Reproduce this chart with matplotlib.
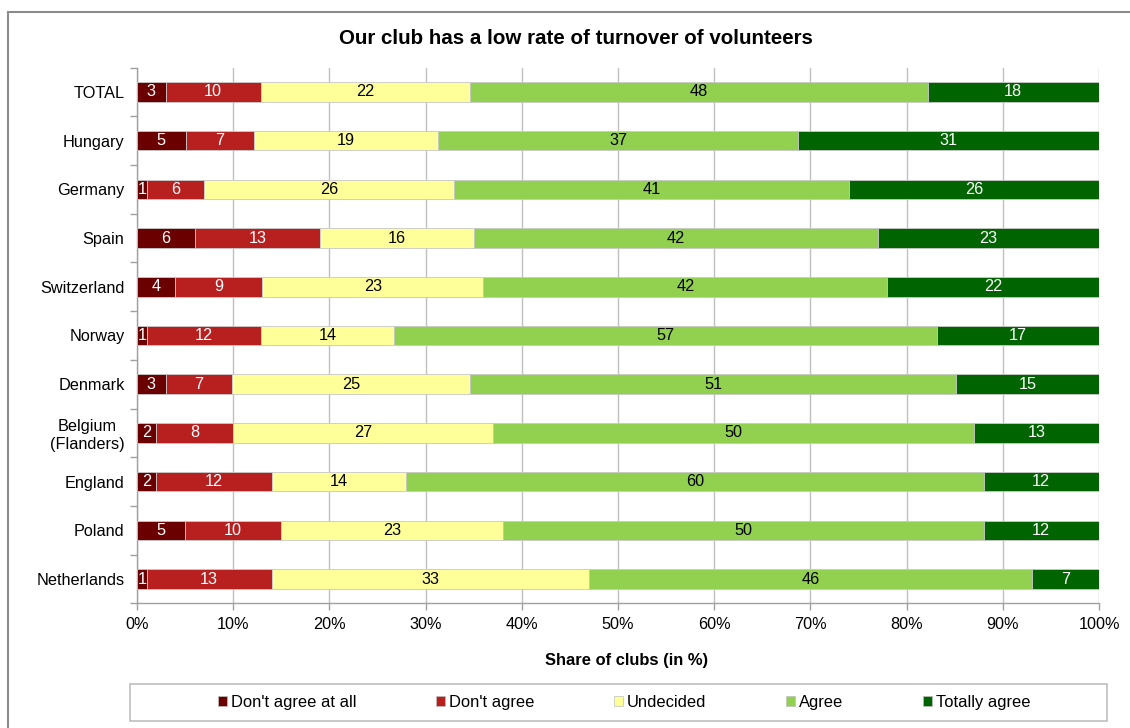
import matplotlib
matplotlib.use("Agg")
import matplotlib.pyplot as plt
import numpy as np
from matplotlib.patches import Patch, Rectangle
from matplotlib.lines import Line2D
from matplotlib.ticker import FixedLocator, PercentFormatter

plt.rcParams['font.family'] = ['Liberation Sans', 'DejaVu Sans']

categories = ["TOTAL", "Hungary", "Germany", "Spain", "Switzerland", "Norway",
              "Denmark", "Belgium\n(Flanders)", "England", "Poland", "Netherlands"]
series_names = ["Don't agree at all", "Don't agree", "Undecided", "Agree", "Totally agree"]
dont_agree_at_all = [3, 5, 1, 6, 4, 1, 3, 2, 2, 5, 1]
dont_agree = [10, 7, 6, 13, 9, 12, 7, 8, 12, 10, 13]
undecided = [22, 19, 26, 16, 23, 14, 25, 27, 14, 23, 33]
agree = [48, 37, 41, 42, 42, 57, 51, 50, 60, 50, 46]
totally_agree = [18, 31, 26, 23, 22, 17, 15, 13, 12, 12, 7]
x_ticks = [0, 10, 20, 30, 40, 50, 60, 70, 80, 90, 100]

colors = ["#6B0000", "#B82020", "#FFFF99", "#92D050", "#006400"]
label_colors = ["white", "white", "black", "black", "white"]

data = np.array([dont_agree_at_all, dont_agree, undecided, agree, totally_agree], dtype=float)
totals = data.sum(axis=0)
shares = data / totals * 100

W, H = 1130, 728
fig = plt.figure(figsize=(W / 100, H / 100), dpi=100)
ax = fig.add_axes([137 / W, 1 - 603.4 / H, (1099 - 137) / W, (603.4 - 67.6) / H])

y = np.arange(len(categories))
left = np.zeros(len(categories))
for i, name in enumerate(series_names):
    bars = ax.barh(y, shares[i], left=left, height=0.4, color=colors[i],
                   edgecolor="#C8C8C8", linewidth=0.6, label=name, zorder=3)
    for j, b in enumerate(bars):
        cx = left[j] + shares[i][j] / 2
        ax.text(cx, y[j], f"{int(data[i][j])}", ha="center", va="center",
                color=label_colors[i], fontsize=11.7, zorder=4)
    left += shares[i]

ax.set_xlim(0, 100)
ax.set_ylim(len(categories) - 0.5, -0.5)
ax.set_yticks(y)
ax.set_yticklabels(categories, fontsize=11.7)
for lab in ax.get_yticklabels():
    lab.set_multialignment('center')
ax.yaxis.set_minor_locator(FixedLocator(np.arange(-0.5, len(categories), 1.0)))
ax.tick_params(axis='y', which='major', length=0, pad=9)
ax.tick_params(axis='y', which='minor', length=5, color="#A0A0A0", width=1)
ax.set_xticks(x_ticks)
ax.xaxis.set_major_formatter(PercentFormatter(decimals=0))
ax.tick_params(axis='x', which='major', length=5, color="#A0A0A0", width=1,
               labelsize=11.7, pad=5)
ax.grid(axis='x', color="#C0C0C0", linewidth=1, zorder=0)
ax.set_axisbelow(True)
for s in ['top', 'right']:
    ax.spines[s].set_visible(False)
for s in ['left', 'bottom']:
    ax.spines[s].set_color("#A0A0A0")
    ax.spines[s].set_linewidth(1)

fig.text(576 / W, 1 - 38 / H, "Our club has a low rate of turnover of volunteers",
         ha="center", va="center", fontsize=14.8, fontweight="bold")
fig.text(627 / W, 1 - 660 / H, "Share of clubs (in %)",
         ha="center", va="center", fontsize=11.9, fontweight="bold")

# legend box
fig.patches.append(Rectangle((130 / W, 1 - 721 / H), (1107 - 130) / W, (721 - 684) / H,
                             transform=fig.transFigure, facecolor="none",
                             edgecolor="#BFBFBF", linewidth=1.2))
handles = [Patch(facecolor=c, edgecolor="#BFBFBF", linewidth=0.5) for c in colors]
fig.legend(handles, series_names, loc="center", ncol=5,
           bbox_to_anchor=(624 / W, 1 - 702.5 / H), frameon=False,
           fontsize=11.9, handlelength=0.55, handleheight=0.55, handletextpad=0.25,
           columnspacing=4.8, borderpad=0)

# outer frame (top and left edges)
fig.add_artist(Line2D([8 / W, 1.0], [1 - 12 / H, 1 - 12 / H], transform=fig.transFigure,
                      color="#8C8C8C", linewidth=1.5))
fig.add_artist(Line2D([8 / W, 8 / W], [0, 1 - 12 / H], transform=fig.transFigure,
                      color="#8C8C8C", linewidth=1.5))

fig.savefig("out.png", dpi=100)
